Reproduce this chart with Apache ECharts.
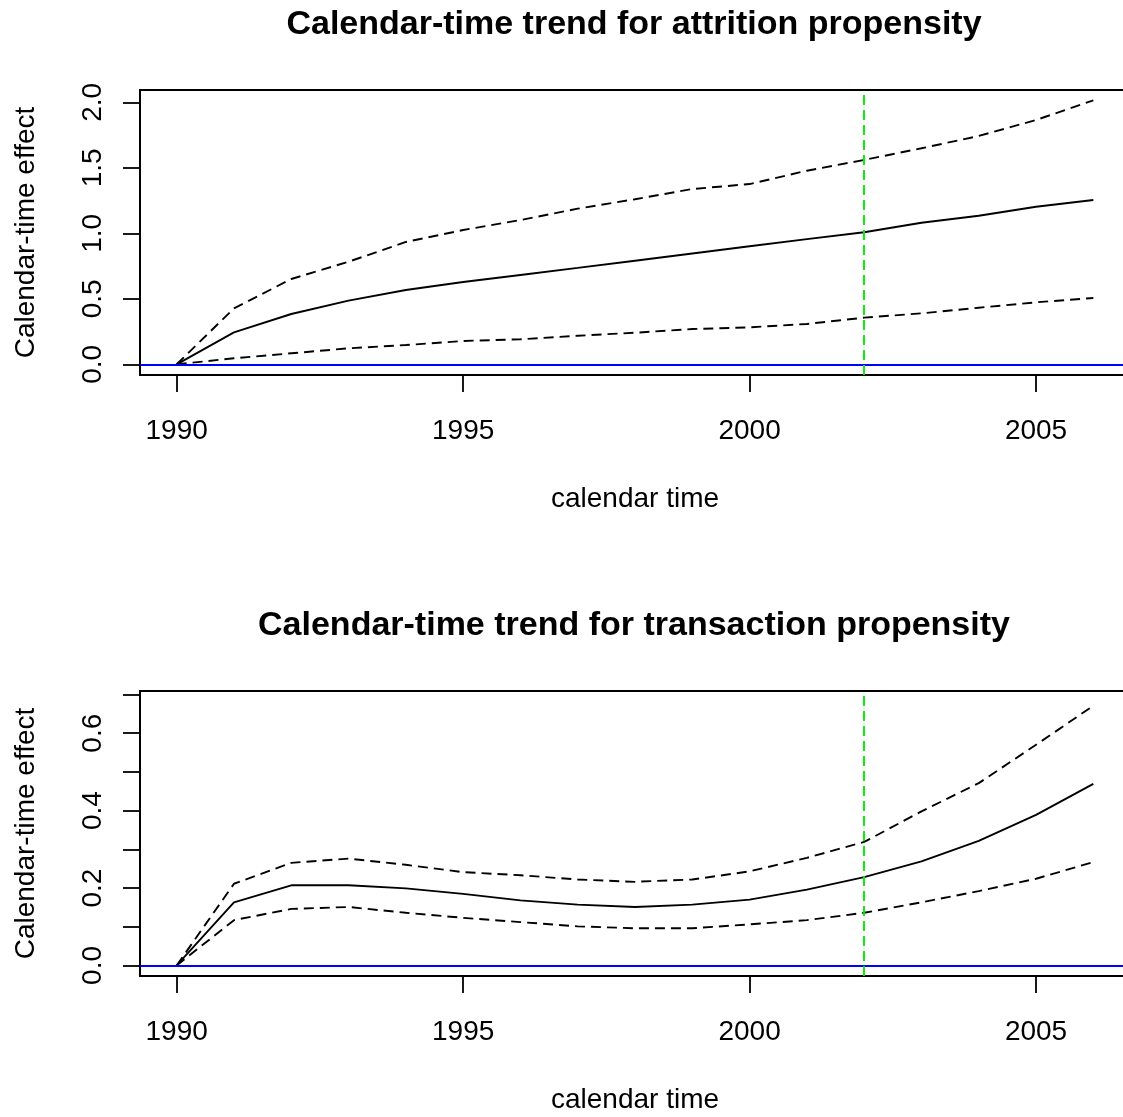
<!DOCTYPE html>
<html>
<head>
<meta charset="utf-8">
<title>Calendar-time trends</title>
<script src="https://cdn.jsdelivr.net/npm/echarts@6/dist/echarts.min.js"></script>
<style>
  html, body { margin: 0; padding: 0; background: #fff; }
  #chart { width: 1123px; height: 1117px; }
</style>
</head>
<body>
<div id="chart"></div>
<script>
// Calendar years on the horizontal axis
const years = [1990, 1991, 1992, 1993, 1994, 1995, 1996, 1997, 1998, 1999,
               2000, 2001, 2002, 2003, 2004, 2005, 2006];

// Attrition propensity: posterior mean and interval bounds
const attritionMean  = [0, 0.244, 0.384, 0.486, 0.567, 0.628, 0.682, 0.736, 0.791,
                        0.846, 0.901, 0.956, 1.008, 1.081, 1.134, 1.203, 1.254];
const attritionUpper = [0, 0.427, 0.651, 0.783, 0.934, 1.025, 1.101, 1.188, 1.260,
                        1.338, 1.376, 1.478, 1.560, 1.649, 1.743, 1.865, 2.015];
const attritionLower = [0, 0.046, 0.084, 0.122, 0.147, 0.178, 0.191, 0.218, 0.241,
                        0.269, 0.282, 0.308, 0.356, 0.389, 0.432, 0.473, 0.506];

// Transaction propensity: posterior mean and interval bounds
const transactionMean  = [0, 0.163, 0.207, 0.207, 0.199, 0.185, 0.168, 0.157, 0.151,
                          0.157, 0.170, 0.196, 0.228, 0.269, 0.322, 0.389, 0.469];
const transactionUpper = [0, 0.211, 0.265, 0.276, 0.260, 0.241, 0.233, 0.222, 0.216,
                          0.222, 0.243, 0.278, 0.319, 0.398, 0.471, 0.570, 0.671];
const transactionLower = [0, 0.117, 0.146, 0.151, 0.136, 0.123, 0.112, 0.101, 0.096,
                          0.096, 0.106, 0.117, 0.136, 0.163, 0.192, 0.224, 0.267];

// Tick positions
const xTicks = [1990, 1995, 2000, 2005];
const attritionTicks = [0, 0.5, 1.0, 1.5, 2.0];
const transactionTicks = [0, 0.1, 0.2, 0.3, 0.4, 0.5, 0.6, 0.7];
const transactionLabels = [0, 0.2, 0.4, 0.6];

// Reference lines
const zeroLevel = 0;
const holdoutYear = 2002;

const titles = ['Calendar-time trend for attrition propensity',
                'Calendar-time trend for transaction propensity'];
const xName = 'calendar time';
const yName = 'Calendar-time effect';

const FONT = "'Liberation Sans', Arial, Helvetica, sans-serif";
const INK = '#000';

function pairs(xs, ys) { return xs.map((x, i) => [x, ys[i]]); }

const gridTops = [90, 691];
const yRanges = [[-0.0817, 2.094], [-0.0273, 0.709]];

function makeXAxis(idx) {
  return {
    type: 'value', gridIndex: idx, position: 'bottom',
    min: 1989.36, max: 2006.64,
    axisLine: { show: false, onZero: false },
    splitLine: { show: false },
    axisTick: { show: true, customValues: xTicks, length: 17, inside: false,
                lineStyle: { color: INK, width: 1.8 } },
    axisLabel: { customValues: xTicks, margin: 42, fontSize: 28, color: INK,
                 fontFamily: FONT, formatter: v => String(v) },
    name: xName, nameLocation: 'middle', nameGap: 110,
    nameTextStyle: { fontSize: 28, color: INK, fontFamily: FONT }
  };
}

function makeYAxis(idx, ticks, labels) {
  return {
    type: 'value', gridIndex: idx, position: 'left',
    min: yRanges[idx][0], max: yRanges[idx][1],
    axisLine: { show: false, onZero: false },
    splitLine: { show: false },
    axisTick: { show: true, customValues: ticks, length: 17,
                lineStyle: { color: INK, width: 1.8 } },
    axisLabel: { customValues: labels, rotate: 90, margin: 33, fontSize: 28,
                 color: INK, fontFamily: FONT, formatter: v => v.toFixed(1) },
    name: yName, nameLocation: 'middle', nameGap: 100, nameRotate: 90,
    nameTextStyle: { fontSize: 28, color: INK, fontFamily: FONT }
  };
}

function lineSeries(idx, ys, dashed) {
  return {
    type: 'line', xAxisIndex: idx, yAxisIndex: idx,
    data: pairs(years, ys), showSymbol: false, symbol: 'none',
    lineStyle: { color: INK, width: 1.9, type: dashed ? [10, 6] : 'solid' },
    silent: true, animation: false, z: 2
  };
}

function refSeries(idx) {
  return {
    type: 'line', xAxisIndex: idx, yAxisIndex: idx, data: [],
    silent: true, animation: false,
    markLine: {
      silent: true, symbol: ['none', 'none'], animation: false,
      label: { show: false },
      data: [
        { yAxis: zeroLevel, lineStyle: { color: '#0000ff', width: 1.8, type: 'solid' } },
        { xAxis: holdoutYear, lineStyle: { color: '#00ee00', width: 1.9, type: [10, 5] } }
      ]
    },
    z: 3
  };
}

const chart = echarts.init(document.getElementById('chart'), null, { renderer: 'canvas' });

chart.setOption({
  backgroundColor: '#fff',
  animation: false,
  title: titles.map((t, i) => ({
    text: t, left: 634, top: 8 + (gridTops[i] - gridTops[0]), textAlign: 'center', padding: 0,
    textStyle: { fontSize: 34, fontWeight: 'bold', color: INK, fontFamily: FONT }
  })),
  grid: gridTops.map(top => ({
    left: 140, top: top, width: 990, height: 285,
    show: true, borderColor: INK, borderWidth: 2, backgroundColor: 'transparent',
    containLabel: false, outerBoundsMode: 'none'
  })),
  xAxis: [makeXAxis(0), makeXAxis(1)],
  yAxis: [makeYAxis(0, attritionTicks, attritionTicks),
          makeYAxis(1, transactionTicks, transactionLabels)],
  series: [
    lineSeries(0, attritionMean, false),
    lineSeries(0, attritionUpper, true),
    lineSeries(0, attritionLower, true),
    refSeries(0),
    lineSeries(1, transactionMean, false),
    lineSeries(1, transactionUpper, true),
    lineSeries(1, transactionLower, true),
    refSeries(1)
  ]
});
</script>
</body>
</html>
